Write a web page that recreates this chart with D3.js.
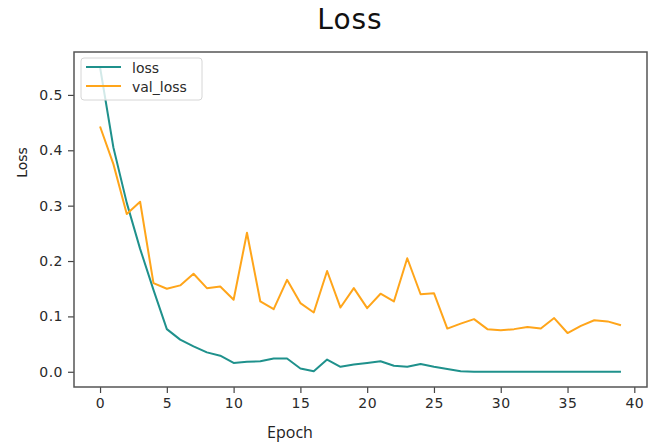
<!DOCTYPE html>
<html>
<head>
<meta charset="utf-8">
<script src="https://cdn.jsdelivr.net/npm/d3@7"></script>
<style>
  body { margin: 0; background: #fff; }
  svg { display: block; }
</style>
</head>
<body>
<div id="chart"></div>
<script>
// Values
const epochs = d3.range(40);
const loss = [0.55, 0.405, 0.305, 0.222, 0.148, 0.077, 0.058, 0.046, 0.035, 0.029,
  0.016, 0.018, 0.019, 0.024, 0.024, 0.006, 0.001, 0.022, 0.009, 0.013,
  0.016, 0.019, 0.011, 0.009, 0.014, 0.009, 0.005, 0.001, 0.0, 0.0,
  0.0, 0.0, 0.0, 0.0, 0.0, 0.0, 0.0, 0.0, 0.0, 0.0];
const valLoss = [0.443, 0.375, 0.285, 0.307, 0.160, 0.150, 0.156, 0.177, 0.151, 0.154,
  0.130, 0.251, 0.127, 0.113, 0.166, 0.124, 0.107, 0.182, 0.116, 0.151,
  0.115, 0.141, 0.127, 0.205, 0.140, 0.142, 0.078, 0.087, 0.095, 0.077,
  0.075, 0.077, 0.081, 0.078, 0.097, 0.070, 0.083, 0.093, 0.091, 0.084];
const xTicks = [0, 5, 10, 15, 20, 25, 30, 35, 40];
const yTicks = [0.0, 0.1, 0.2, 0.3, 0.4, 0.5];

const series = [
  { name: "loss", values: loss, color: "#1f918c" },
  { name: "val_loss", values: valLoss, color: "#ffa51a" }
];

const width = 656, height = 443;
const box = { left: 74, right: 647, top: 52, bottom: 387 };

const svg = d3.select("#chart").append("svg")
  .attr("width", width)
  .attr("height", height);

// Scales (matplotlib-like 5% margins)
const xScale = d3.scaleLinear()
  .domain([-1.95, 40.95])
  .range([box.left, box.right]);

const yScale = d3.scaleLinear()
  .domain([-0.0275, 0.5775])
  .range([box.bottom, box.top]);

// Title
svg.append("text")
  .attr("x", 350)
  .attr("y", 28.5)
  .attr("text-anchor", "middle")
  .attr("font-family", "DejaVu Sans, sans-serif")
  .attr("font-size", "28px")
  .attr("letter-spacing", "1px")
  .attr("fill", "#111")
  .text("Loss");

// X axis
const xAxis = svg.append("g")
  .attr("transform", `translate(0,${box.bottom})`)
  .call(d3.axisBottom(xScale).tickValues(xTicks).tickSize(6).tickPadding(5).tickFormat(d3.format("d")));

// Y axis
const yAxis = svg.append("g")
  .attr("transform", `translate(${box.left},0)`)
  .call(d3.axisLeft(yScale).tickValues(yTicks).tickSize(6).tickPadding(5).tickFormat(d3.format(".1f")));

[xAxis, yAxis].forEach(g => {
  g.select(".domain").remove();
  g.selectAll(".tick line").attr("stroke", "#444").attr("stroke-width", 1.2);
  g.selectAll(".tick text")
    .attr("font-family", "DejaVu Sans, sans-serif")
    .attr("font-size", "14px")
    .attr("letter-spacing", "0.5px")
    .attr("fill", "#2a2a2a");
});

// X axis label
svg.append("text")
  .attr("x", 290)
  .attr("y", 438)
  .attr("text-anchor", "middle")
  .attr("font-family", "Open Sans, sans-serif")
  .attr("font-size", "16px")
  .attr("fill", "#222")
  .text("Epoch");

// Y axis label
svg.append("text")
  .attr("transform", "rotate(-90)")
  .attr("x", -162.5)
  .attr("y", 27)
  .attr("text-anchor", "middle")
  .attr("font-family", "DejaVu Sans, sans-serif")
  .attr("font-size", "14px")
  .attr("fill", "#222")
  .text("Loss");

// Lines
const line = d3.line()
  .x((d, i) => xScale(epochs[i]))
  .y(d => yScale(d));

svg.selectAll(".series-line")
  .data(series)
  .join("path")
  .attr("class", "series-line")
  .attr("d", d => line(d.values))
  .attr("fill", "none")
  .attr("stroke", d => d.color)
  .attr("stroke-width", 2)
  .attr("stroke-linejoin", "round");

// Frame
svg.append("rect")
  .attr("x", box.left)
  .attr("y", box.top)
  .attr("width", box.right - box.left)
  .attr("height", box.bottom - box.top)
  .attr("fill", "none")
  .attr("stroke", "#555")
  .attr("stroke-width", 1.5);

// Legend
const legend = svg.append("g");
legend.append("rect")
  .attr("x", 81)
  .attr("y", 58)
  .attr("width", 121)
  .attr("height", 42)
  .attr("rx", 3)
  .attr("fill", "#fff")
  .attr("fill-opacity", 0.8)
  .attr("stroke", "#d6d6d6");

const items = legend.selectAll(".item")
  .data(series)
  .join("g")
  .attr("class", "item")
  .attr("transform", (d, i) => `translate(0,${67 + i * 19})`);

items.append("line")
  .attr("x1", 86).attr("x2", 121)
  .attr("stroke", d => d.color)
  .attr("stroke-width", 2);

items.append("text")
  .attr("x", 132)
  .attr("y", 5.5)
  .attr("font-family", "DejaVu Sans, sans-serif")
  .attr("font-size", "14px")
  .attr("fill", "#2a2a2a")
  .text(d => d.name);
</script>
</body>
</html>
